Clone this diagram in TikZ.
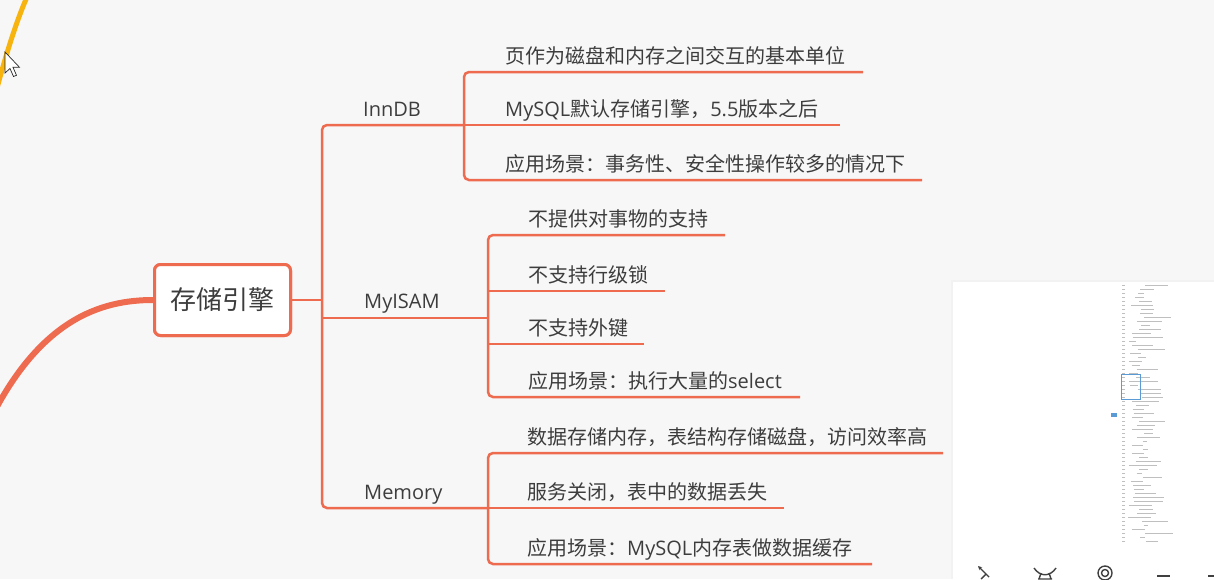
\documentclass[tikz,border=0pt]{standalone}
\usepackage{fontspec}
\setmainfont{Noto Sans CJK SC}
\newfontfamily\latf{Open Sans}
\usetikzlibrary{arrows.meta}
\definecolor{br}{HTML}{EE6B4F}
\definecolor{bg}{HTML}{F7F7F8}
\definecolor{txt}{HTML}{3D3D3D}
\definecolor{yel}{HTML}{F8B40E}
\definecolor{mblue}{HTML}{5B9BD5}
\tikzset{
  branch/.style={draw=br, line width=2.5pt},
  rc/.style={rounded corners=5pt},
  item/.style={anchor=base west, inner sep=0pt, text=txt, font=\fontsize{20}{24}\selectfont},
  lbl/.style={anchor=base west, inner sep=0pt, text=txt, font=\latf\fontsize{20}{24}\selectfont},
  rootbox/.style={draw=br, line width=3pt, fill=white, rounded corners=6pt, minimum width=136pt, minimum height=71pt, inner sep=0pt, text=txt, font=\fontsize{26}{30}\selectfont},
  tick/.style={draw=black!25, line width=0.7pt},
  icon/.style={draw=black!75, line width=1.4pt},
}
\begin{document}
\begin{tikzpicture}[x=1pt,y=-1pt]
\useasboundingbox[fill=bg] (0,0) rectangle (1214,579);

% decorative curves
\draw[yel, line width=5pt] (27,-3) .. controls (16,22) and (6,55) .. (-3,88);

% root
\node[rootbox] (root) at (222.5,300) {存储引擎};
\draw[br, line width=6pt] (root.west) .. controls (100,300) and (40,320) .. (-10,420);
\node[rootbox] at (root) {存储引擎};

% junction coordinates
\coordinate (tJ) at (322,300);
\coordinate (jInn) at (464,125);
\coordinate (jMy) at (488,318);
\coordinate (jMem) at (488,508);

% trunk
\draw[branch] (root.east) -- (tJ);
\draw[branch, rc] (jInn) -- (322,125) -- (322,508) -- (jMem);
\draw[branch] (322,318) -- (jMy);

% labels
\node[lbl] (inn) at (363,116) {InnDB};
\node[lbl] (myi) at (364,308) {MyISAM};
\node[lbl] (mem) at (364,499) {Memory};

% InnDB items
\coordinate (e1) at (863,72);
\coordinate (e2) at (840,125);
\coordinate (e3) at (922,180);
\draw[branch, rc] (e1) -- (464,72) -- (464,180) -- (e3);
\draw[branch] (jInn) -- (e2);
\node[item] (a1) at (505,63) {页作为磁盘和内存之间交互的基本单位};
\node[item] (a2) at (505,116) {{\latf MySQL}默认存储引擎，{\latf 5.5}版本之后};
\node[item] (a3) at (505,171) {应用场景：事务性、安全性操作较多的情况下};

% MyISAM items
\coordinate (f1) at (725,235);
\coordinate (f2) at (665,291);
\coordinate (f3) at (644,344);
\coordinate (f4) at (800,397);
\draw[branch, rc] (f1) -- (488,235) -- (488,397) -- (f4);
\draw[branch] (488,291) -- (f2);
\draw[branch] (488,344) -- (f3);
\node[item] (b1) at (528,226) {不提供对事物的支持};
\node[item] (b2) at (528,282) {不支持行级锁};
\node[item] (b3) at (528,335) {不支持外键};
\node[item] (b4) at (528,388) {应用场景：执行大量的{\latf select}};

% Memory items
\coordinate (g1) at (943,453);
\coordinate (g2) at (784,508);
\coordinate (g3) at (872,564);
\draw[branch, rc] (g1) -- (488,453) -- (488,564) -- (g3);
\draw[branch] (jMem) -- (g2);
\node[item] (c1) at (527,444) {数据存储内存，表结构存储磁盘，访问效率高};
\node[item] (c2) at (527,499) {服务关闭，表中的数据丢失};
\node[item] (c3) at (527,555) {应用场景：{\latf MySQL}内存表做数据缓存};

% minimap panel
\fill[black!3] (949,278) rectangle (1214,579);
\fill[black!5] (951,280) rectangle (1214,579);
\fill[white] (953,282) rectangle (1214,579);
\pgfmathsetseed{11}
\foreach \i in {0,...,64} {
  \pgfmathsetmacro\yy{285+\i*4}
  \pgfmathsetmacro\ll{4+rnd*28}
  \pgfmathsetmacro\xx{1128+rnd*18}
  \draw[tick] (\xx,\yy) -- ++(\ll,0);
  \draw[tick] (1122,\yy) -- ++(3,0);
}
\draw[mblue, line width=0.9pt] (1121,374) rectangle (1140,399);
\fill[mblue] (1111,413) rectangle (1117,417);

% toolbar icons
\draw[icon, -{Stealth[length=4pt,width=4pt]}] (989,577) -- (978,566);
\draw[icon] (981,579) -- (986,574);
\draw[icon] (1034,568) .. controls (1040,577) and (1050,577) .. (1056,568);
\draw[icon] (1039,579) -- (1041,573) (1051,579) -- (1049,573) (1038,579) -- (1052,579);
\draw[icon] (1105,573) circle (7);
\draw[icon] (1105,573) circle (3.5);
\draw[icon] (1157,576) -- (1170,576);
\draw[icon] (1208,576) -- (1214,576);

% mouse cursor
\filldraw[fill=white, draw=black!85, line width=0.7pt]
  (5,52) -- (5,73) -- (10,68.5) -- (13.5,76.5) -- (16.5,75.3) -- (13,67.3) -- (19.5,67.3) -- cycle;
\end{tikzpicture}
\end{document}
